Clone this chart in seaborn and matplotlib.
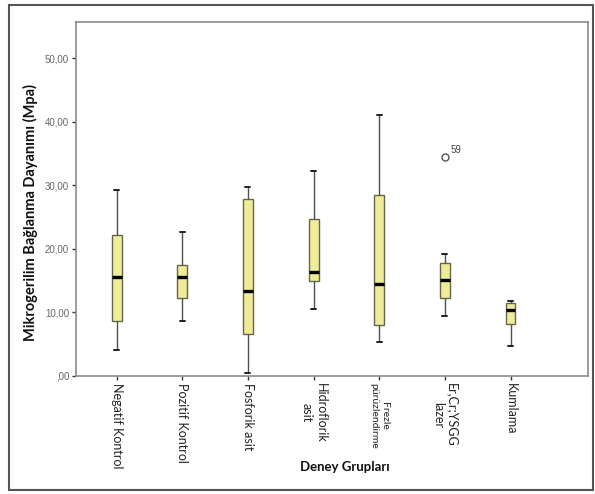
import pandas as pd
import seaborn as sns
import matplotlib.pyplot as plt
from matplotlib.patches import Rectangle

# group names (x axis)
groups = [
    "Negatif Kontrol",
    "Pozitif Kontrol",
    "Fosforik asit",
    "Hidroflorik\nasit",
    "Frezle\npürüzlendirme",
    "Er,Cr;YSGG\nlazer",
    "Kumlama",
]

# values (min, Q1, median, Q3, max)
negatif = [4.1, 8.7, 15.5, 22.2, 29.3]
pozitif = [8.7, 12.3, 15.6, 17.4, 22.6]
fosforik = [0.5, 6.6, 13.4, 27.9, 29.7]
hidroflorik = [10.5, 14.9, 16.3, 24.7, 32.3]
frezle = [5.3, 8.0, 14.5, 28.5, 41.1]
erlazer = [9.5, 11.0, 12.3, 13.8, 15.1, 16.4, 17.8, 19.2, 34.5]
kumlama = [4.7, 8.2, 10.4, 11.5, 11.8]

outlier_id = "59"
yticks = [0, 10, 20, 30, 40, 50]
ytick_labels = [",00", "10,00", "20,00", "30,00", "40,00", "50,00"]

rows = []
for g, vals in zip(groups, [negatif, pozitif, fosforik, hidroflorik, frezle, erlazer, kumlama]):
    for v in vals:
        rows.append({"grup": g, "deger": v})
df = pd.DataFrame(rows)

sns.set_theme(style="white")
plt.rcParams["font.family"] = ["Lato", "DejaVu Sans"]

fig = plt.figure(figsize=(5.95, 4.94), dpi=100)
ax = fig.add_axes([0.1277, 0.2389, 0.8605, 0.7166])

sns.boxplot(
    data=df, x="grup", y="deger", order=groups, ax=ax,
    width=0.15, color="#EEEC98", saturation=1, linecolor="#66664a", linewidth=1.0,
    medianprops=dict(color="black", linewidth=2.4),
    whiskerprops=dict(color="#505050", linewidth=1.0),
    capprops=dict(color="#202020", linewidth=1.4),
    flierprops=dict(marker="o", markerfacecolor="white", markeredgecolor="#555555",
                    markersize=5, markeredgewidth=1.0),
)

# label for the outlier
out_val = max(erlazer)
ax.annotate(outlier_id, xy=(groups.index("Er,Cr;YSGG\nlazer"), out_val),
            xytext=(4, 3), textcoords="offset points", fontsize=7,
            color="#444444", family="Liberation Sans")

ax.set_xlim(-0.62, 7.18)
ax.set_ylim(0, 55.7)
ax.set_yticks(yticks)
ax.set_yticklabels(ytick_labels, family="Liberation Sans", fontsize=7, color="#666666")
ax.set_xticks(range(len(groups)))
ax.set_xticklabels(groups, rotation=270, fontsize=9, color="#222222", va="top", ha="center")
for t in ax.get_xticklabels():
    if t.get_text().startswith("Frezle"):
        t.set_fontsize(7.5)
ax.tick_params(axis="both", direction="out", length=3, width=1, color="#333333", pad=2)
ax.tick_params(axis="x", bottom=True)
ax.tick_params(axis="y", left=True)

for s in ax.spines.values():
    s.set_visible(True)
    s.set_color("#8a8a8a")
    s.set_linewidth(1.2)

ax.set_xlabel("")
ax.set_ylabel("")
fig.text(30 / 595, 1 - 212 / 494, "Mikrogerilim Bağlanma Dayanımı (Mpa)", rotation=90,
         ha="center", va="center", fontsize=10.5, fontweight="bold", color="#111111")
fig.text(345 / 595, 1 - 467 / 494, "Deney Grupları", ha="center", va="center",
         fontsize=9.5, fontweight="bold", color="#111111")

# outer frame around the whole figure
fig.patches.append(Rectangle((9 / 595, 4 / 494), 584 / 595, 485 / 494,
                             transform=fig.transFigure, fill=False,
                             edgecolor="#555555", linewidth=1.5))

fig.savefig("out.png", dpi=100)
